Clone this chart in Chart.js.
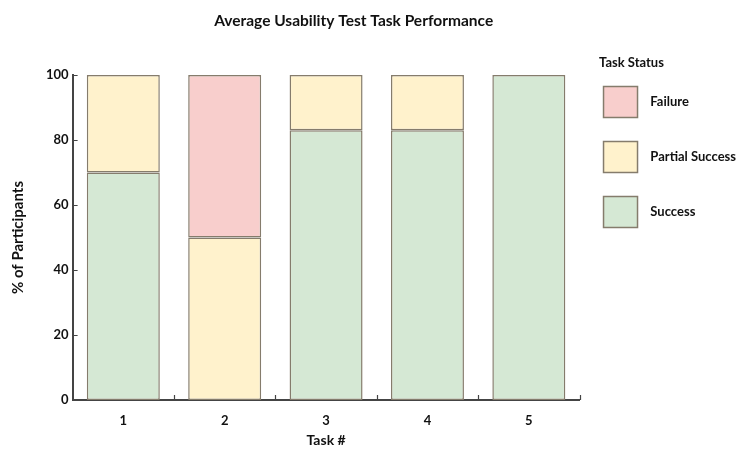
<!DOCTYPE html>
<html><head><meta charset="utf-8">
<script src="https://cdn.jsdelivr.net/npm/chart.js@4.4.1/dist/chart.umd.min.js"></script>
<style>html,body{margin:0;padding:0;background:#fff}</style>
</head><body>
<canvas id="c" width="749" height="451"></canvas>
<script>
const categories = ['1', '2', '3', '4', '5'];
const successValues = [70, null, 83, 83, 100];
const partialValues = [30, 50, 17, 17, null];
const failureValues = [null, 50, null, null, null];
const seriesNames = ['Success', 'Partial Success', 'Failure'];
const yTickValues = [0, 20, 40, 60, 80, 100];

const FONT = 'Lato';
const innerTicks = {
  id: 'innerTicks',
  afterDatasetsDraw(chart) {
    const {ctx, scales: {x, y}} = chart;
    ctx.save();
    ctx.strokeStyle = '#444';
    ctx.lineWidth = 1.2;
    ctx.beginPath();
    const n = categories.length;
    for (let i = 1; i <= n; i++) {
      const px = Math.round(x.left + i * (x.right - x.left) / n) + 0.5;
      ctx.moveTo(px, x.top);
      ctx.lineTo(px, x.top - 5);
    }
    y.ticks.forEach(t => {
      const py = Math.round(y.getPixelForValue(t.value)) + 0.5;
      ctx.moveTo(y.right, py);
      ctx.lineTo(y.right + 5, py);
    });
    ctx.stroke();
    ctx.restore();
  }
};

const borderCol = '#857c6c';
new Chart(document.getElementById('c'), {
  type: 'bar',
  data: {
    labels: categories,
    datasets: [
      {label: seriesNames[0], data: successValues, backgroundColor: '#d5e8d4', borderColor: borderCol, borderWidth: 1.5, borderSkipped: false},
      {label: seriesNames[1], data: partialValues, backgroundColor: '#fff2cc', borderColor: borderCol, borderWidth: 1.5, borderSkipped: false},
      {label: seriesNames[2], data: failureValues, backgroundColor: '#f8cecc', borderColor: borderCol, borderWidth: 1.5, borderSkipped: false}
    ]
  },
  options: {
    responsive: false,
    animation: false,
    barPercentage: 0.72,
    categoryPercentage: 1,
    layout: {padding: {left: 4, right: 3, top: 0, bottom: 0}},
    plugins: {
      tooltip: {enabled: false},
      title: {
        display: true,
        text: 'Average Usability Test Task Performance\u2003\u2003\u2003\u2002',
        color: '#111',
        font: {family: FONT, size: 15.5, weight: 'bold'},
        padding: {top: 12, bottom: 44.4}
      },
      legend: {
        position: 'right',
        align: 'start',
        reverse: true,
        title: {
          display: true,
          text: '\u2003\u2003Task Status',
          position: 'start',
          color: '#111',
          font: {family: FONT, size: 13, weight: 'bold'},
          padding: {top: 56, bottom: -9}
        },
        labels: {
          boxWidth: 34,
          boxHeight: 31,
          padding: 24,
          color: '#111',
          font: {family: FONT, size: 13, weight: 'bold'},
          generateLabels(chart) {
            const items = Chart.defaults.plugins.legend.labels.generateLabels(chart);
            items.forEach(it => { it.text = '  ' + it.text; });
            return items;
          }
        }
      }
    },
    scales: {
      x: {
        stacked: true,
        grid: {display: false, drawTicks: false},
        border: {display: true, color: '#444', width: 2},
        ticks: {color: '#111', padding: 13, font: {family: FONT, size: 13, weight: 'bold'}},
        title: {display: true, text: 'Task #', color: '#111', font: {family: FONT, size: 14, weight: 'bold'}, padding: {top: -10, bottom: 2.6}}
      },
      y: {
        stacked: true,
        min: 0, max: 100,
        afterBuildTicks(scale) { scale.ticks = yTickValues.map(v => ({value: v})); },
        grid: {display: false, drawTicks: false},
        border: {display: true, color: '#444', width: 2},
        ticks: {color: '#111', padding: 4, font: {family: FONT, size: 13, weight: 'bold'}},
        title: {display: true, text: '% of Participants', color: '#111', font: {family: FONT, size: 15, weight: 'bold'}, padding: {top: 5, bottom: 15}}
      }
    }
  },
  plugins: [innerTicks]
});
</script>
</body></html>
